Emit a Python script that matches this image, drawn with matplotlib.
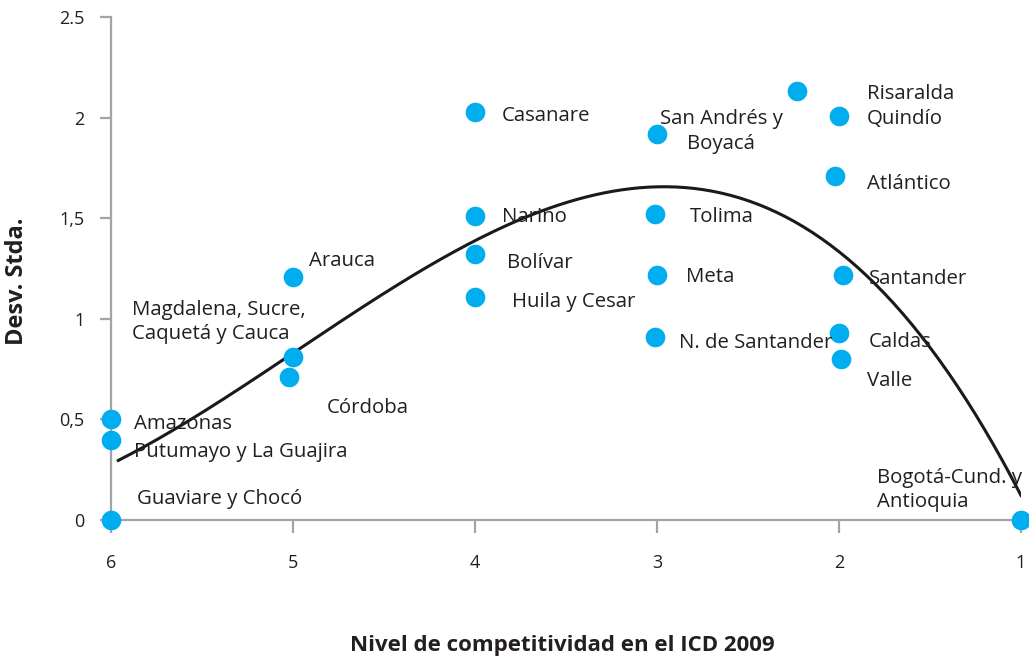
import numpy as np
import matplotlib.pyplot as plt

plt.rcParams['font.family'] = ['Open Sans', 'DejaVu Sans']

# nivel ICD 2009 (x) vs desviacion estandar (y)
names = ['Amazonas', 'Putumayo y La Guajira', 'Guaviare y Chocó',
         'Magdalena, Sucre,\nCaquetá y Cauca', 'Córdoba', 'Arauca',
         'Casanare', 'Nariño', 'Bolívar', 'Huila y Cesar',
         'San Andrés y\nBoyacá', 'Tolima', 'Meta', 'N. de Santander',
         '', 'Risaralda\nQuindío', 'Atlántico', 'Santander', 'Caldas', 'Valle',
         'Bogotá-Cund. y\nAntioquia']
nivel = [6.0, 6.0, 6.0, 5.0, 5.02, 5.0, 4.0, 4.0, 4.0, 4.0,
         3.0, 3.01, 3.0, 3.01, 2.23, 2.0, 2.02, 1.98, 2.0, 1.99, 1.0]
desv = [0.50, 0.40, 0.0, 0.81, 0.71, 1.21, 2.03, 1.51, 1.32, 1.11,
        1.92, 1.52, 1.22, 0.91, 2.13, 2.01, 1.71, 1.22, 0.93, 0.80, 0.0]
# number of regions behind each point (Bogotá-Cund. counted as one)
n_dptos = [1, 2, 2, 4, 1, 1, 1, 1, 1, 2,
           2, 1, 1, 1, 1, 1, 1, 1, 1, 1, 1]

yticks = [0, 0.5, 1, 1.5, 2, 2.5]
ytick_labels = ['0', '0,5', '1', '1,5', '2', '2.5']
xticks = [6, 5, 4, 3, 2, 1]

# label offsets in pixels (dx, dy)
offsets = [(23, -5), (23, -12), (26, 21), (-161, 35), (37, -31), (16, 16),
           (27, -4), (27, -1), (32, -9), (37, -5),
           (64, 2), (35, -3), (29, -2), (24, -6),
           (0, 0), (28, 9), (32, -8), (26, -4), (30, -9), (26, -22),
           (-144, 30)]

blue = '#00aeef'
gray = '#a3a3a8'
txt = '#231f20'

fig = plt.figure(figsize=(10.29, 6.58), dpi=100)
ax = fig.add_axes([111 / 1029, 138 / 658, 910 / 1029, 503 / 658])

ax.scatter(nivel, desv, s=200, color=blue, zorder=3, clip_on=False, linewidths=0)

# polynomial trend (order 3), one observation per region
xs_fit = np.repeat(nivel, n_dptos)
ys_fit = np.repeat(desv, n_dptos)
coef = np.polyfit(xs_fit, ys_fit, 3)
xs = np.linspace(5.96, 1.0, 200)
ax.plot(xs, np.polyval(coef, xs), color='#1a1a1a', lw=2.2, zorder=2)

for name, x, y, (dx, dy) in zip(names, nivel, desv, offsets):
    if not name:
        continue
    ha = 'center' if name.startswith('San Andr') else 'left'
    ax.annotate(name, (x, y), xytext=(dx * 0.72, dy * 0.72), textcoords='offset points',
                ha=ha, va='center', fontsize=14.7, color=txt, linespacing=1.3, zorder=4)

ax.set_xlim(6, 1)
ax.set_ylim(0, 2.5)
ax.set_xticks(xticks)
ax.set_xticklabels([str(v) for v in xticks])
ax.set_yticks(yticks)
ax.set_yticklabels(ytick_labels)

for side in ['top', 'right']:
    ax.spines[side].set_visible(False)
for side in ['left', 'bottom']:
    ax.spines[side].set_color(gray)
    ax.spines[side].set_linewidth(1.6)

ax.tick_params(axis='x', length=9.5, width=1.6, color=gray, pad=15, labelsize=13, labelcolor=txt)
ax.tick_params(axis='y', length=8, width=1.6, color=gray, pad=11, labelsize=13, labelcolor=txt)

fig.text(562 / 1029, 1 - 645 / 658, 'Nivel de competitividad en el ICD 2009', ha='center', va='center',
         fontsize=16, fontweight='bold', color=txt)
fig.text(17 / 1029, 1 - 281 / 658, 'Desv. Stda.', ha='center', va='center', rotation=90,
         fontsize=17, fontweight='bold', color=txt)

fig.savefig('out.png', dpi=100)
